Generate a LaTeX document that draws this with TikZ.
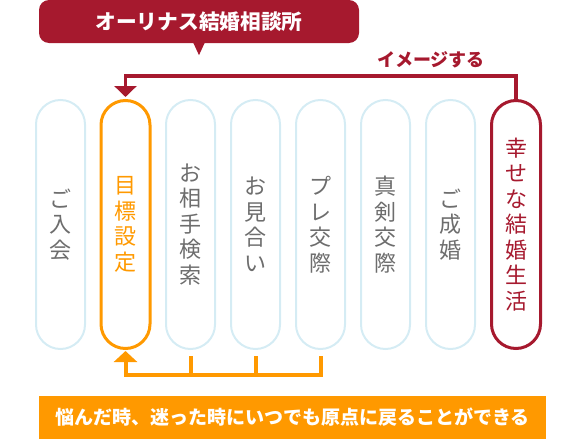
\documentclass[tikz,border=0pt]{standalone}
\usepackage{fontspec}
\setmainfont{Noto Sans CJK JP}
\usetikzlibrary{arrows.meta}
\definecolor{brandred}{HTML}{A6192E}
\definecolor{brandorange}{HTML}{FF9900}
\definecolor{pillblue}{HTML}{D5ECF4}
\definecolor{pillgray}{HTML}{6D6D6D}
\begin{document}
\begin{tikzpicture}[x=1pt,y=-1pt,
  pill/.style={draw=pillblue,line width=2pt,rounded corners=24.5pt,minimum width=49pt,minimum height=249pt,inner sep=0pt,text=pillgray,font=\fontsize{22}{25.5}\selectfont,align=center},
  hotpill/.style={pill,line width=3pt,minimum height=248pt},
  redline/.style={draw=brandred,line width=3.5pt},
  orangeline/.style={draw=brandorange,line width=4pt}]
\useasboundingbox (0,0) rectangle (576,439);
% title
\node[fill=brandred,rounded corners=10pt,minimum width=320pt,minimum height=43pt,inner sep=0pt,text=white,font=\bfseries\fontsize{20.7}{24}\selectfont] (title) at (199,21.5) {オーリナス結婚相談所};
\fill[brandred] ([xshift=-6pt,yshift=1pt]title.south) -- ([xshift=6pt,yshift=1pt]title.south) -- ([yshift=-12pt]title.south) -- cycle;
% pills
\node[pill] (p1) at (60.5,224.5) {ご\\入\\会};
\node[hotpill,draw=brandorange,text=brandorange] (p2) at (125.5,224.5) {目\\標\\設\\定};
\node[pill] (p3) at (190.5,224.5) {お\\相\\手\\検\\索};
\node[pill] (p4) at (255.5,224.5) {お\\見\\合\\い};
\node[pill] (p5) at (320.5,224.5) {プ\\レ\\交\\際};
\node[pill] (p6) at (385.5,224.5) {真\\剣\\交\\際};
\node[pill] (p7) at (450.5,224.5) {ご\\成\\婚};
\node[hotpill,draw=brandred,text=brandred] (p8) at (516,224.5) {幸\\せ\\な\\結\\婚\\生\\活};
% red feedback
\coordinate (rtop) at (0,76);
\draw[redline,-{Triangle[width=22pt,length=11pt]},shorten >=2pt] (p8.north) -- (p8.north |- rtop) -| (p2.north);
\node[text=brandred,font=\bfseries\fontsize{18}{20}\selectfont] (imagine) at (431,60) {イメージする};
% orange feedback
\coordinate (obase) at (0,374.5);
\draw[orangeline,-{Triangle[width=23pt,length=11pt]},shorten <=6pt,shorten >=1pt] (p5.south) -- (p5.south |- obase) -| (p2.south);
\draw[orangeline,shorten <=6pt] (p3.south) -- (p3.south |- obase);
\draw[orangeline,shorten <=6pt] (p4.south) -- (p4.south |- obase);
% note
\node[fill=brandorange,minimum width=507pt,minimum height=43pt,inner sep=0pt,text=white,font=\bfseries\fontsize{19}{22}\selectfont] (note) at (292.5,417.5) {悩んだ時、迷った時にいつでも原点に戻ることができる};
\end{tikzpicture}
\end{document}
